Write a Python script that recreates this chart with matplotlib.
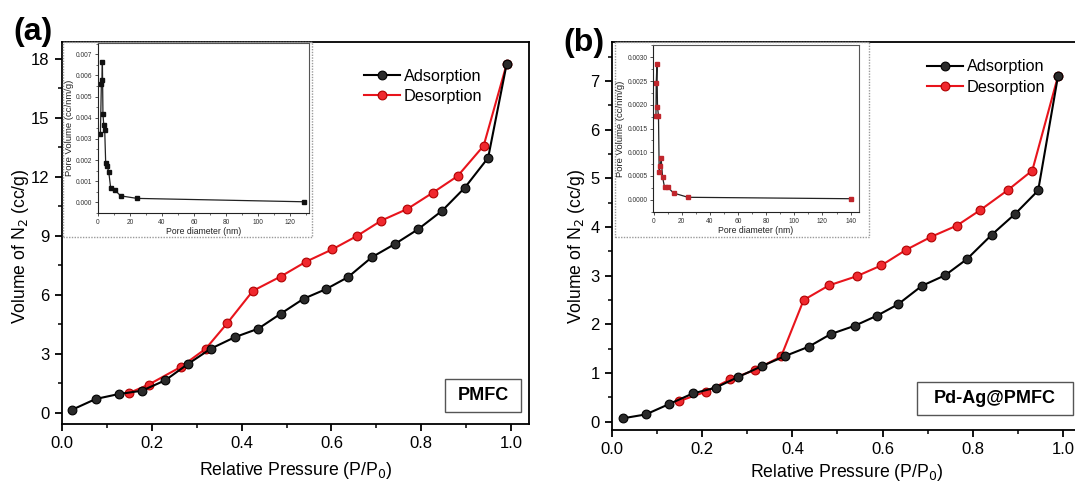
import matplotlib
matplotlib.use('Agg')
import matplotlib.pyplot as plt
from matplotlib.patches import Rectangle
from matplotlib.ticker import MultipleLocator

plt.rcParams['font.family'] = ['Liberation Sans', 'DejaVu Sans']

# ---- panel (a) PMFC isotherm ----
a_ads_x = [0.023, 0.075, 0.126, 0.178, 0.230, 0.280, 0.331, 0.385, 0.437, 0.487,
           0.538, 0.588, 0.637, 0.690, 0.742, 0.793, 0.847, 0.897, 0.949, 0.990]
a_ads_y = [0.17, 0.71, 0.96, 1.13, 1.66, 2.48, 3.26, 3.85, 4.28, 5.04,
           5.80, 6.29, 6.90, 7.91, 8.59, 9.33, 10.28, 11.44, 12.96, 17.70]
a_des_x = [0.990, 0.939, 0.881, 0.826, 0.769, 0.711, 0.657, 0.602, 0.544, 0.487,
           0.425, 0.368, 0.320, 0.264, 0.193, 0.149]
a_des_y = [17.70, 13.57, 12.03, 11.19, 10.36, 9.77, 8.99, 8.31, 7.69, 6.93,
           6.20, 4.56, 3.26, 2.33, 1.44, 1.01]

# inset (a) pore size distribution
a_pore_d = [1.5, 2.1, 2.5, 2.75, 3.1, 3.6, 4.2, 4.8, 5.6, 6.7, 7.9, 10.4, 14.2, 24.4, 129]
a_pore_v = [0.00322, 0.0056, 0.0058, 0.00662, 0.00418, 0.00366, 0.00342, 0.00188,
            0.00173, 0.00146, 0.0007, 0.00059, 0.00031, 0.00019, 0.00003]

# ---- panel (b) Pd-Ag@PMFC isotherm ----
b_ads_x = [0.024, 0.075, 0.126, 0.179, 0.230, 0.280, 0.332, 0.384, 0.436, 0.485,
           0.538, 0.588, 0.634, 0.687, 0.739, 0.787, 0.842, 0.894, 0.945, 0.989]
b_ads_y = [0.07, 0.15, 0.36, 0.58, 0.70, 0.92, 1.14, 1.35, 1.54, 1.80,
           1.97, 2.18, 2.41, 2.79, 3.01, 3.34, 3.84, 4.27, 4.75, 7.10]
b_des_x = [0.989, 0.932, 0.878, 0.817, 0.765, 0.708, 0.652, 0.597, 0.543, 0.481,
           0.425, 0.375, 0.316, 0.262, 0.209, 0.148]
b_des_y = [7.10, 5.16, 4.76, 4.35, 4.03, 3.80, 3.53, 3.21, 2.99, 2.80,
           2.50, 1.34, 1.06, 0.87, 0.62, 0.42]

# inset (b) pore size distribution
b_pore_d = [1.6, 1.8, 2.3, 2.7, 3.4, 3.9, 4.6, 5.3, 6.3, 7.7, 10.1, 14.1, 24.4, 140]
b_pore_v = [0.00177, 0.00246, 0.00285, 0.00195, 0.00177, 0.00059, 0.0007, 0.00087,
            0.00048, 0.00026, 0.00026, 0.00014, 0.00005, 0.00002]

W, H = 1075, 482
fig = plt.figure(figsize=(W / 100, H / 100), dpi=100)
fig.patch.set_facecolor('white')


def px_rect(left, top, right, bottom):
    return [left / W, 1 - bottom / H, (right - left) / W, (bottom - top) / H]


def style_main(ax, ymajor, yminor, xpad, ylab_x, ylab_y):
    for s in ax.spines.values():
        s.set_linewidth(1.3)
    ax.xaxis.set_major_locator(MultipleLocator(0.2))
    ax.xaxis.set_minor_locator(MultipleLocator(0.1))
    ax.yaxis.set_major_locator(MultipleLocator(ymajor))
    ax.yaxis.set_minor_locator(MultipleLocator(yminor))
    ax.tick_params(which='major', direction='out', length=5, width=1.3,
                   labelsize=12, pad=4)
    ax.tick_params(which='minor', direction='out', length=3, width=1.1)
    ax.set_xlabel('Relative Pressure (P/P$_0$)', fontsize=12.7, labelpad=xpad)
    ax.set_ylabel('Volume of N$_2$ (cc/g)', fontsize=12.7)
    ax.yaxis.set_label_coords(ylab_x, ylab_y)


def plot_iso(ax, ax_x, ax_y, de_x, de_y):
    ax.plot(ax_x, ax_y, '-o', color='black', lw=1.5, ms=6.3,
            mfc='#2a2a2a', mec='black', mew=0.8, label='Adsorption', zorder=3)
    ax.plot(de_x, de_y, '-o', color='#e8141c', lw=1.5, ms=6.3,
            mfc='#f0282e', mec='#b00000', mew=0.8, label='Desorption', zorder=2)


def make_inset(rect, frame, d, v, xlim, ylim, ymajor, yminor, yfmt, mcolor):
    fig.patches.append(Rectangle((frame[0] / W, 1 - frame[3] / H),
                                 (frame[2] - frame[0]) / W, (frame[3] - frame[1]) / H,
                                 transform=fig.transFigure, facecolor='white',
                                 edgecolor='#9a9a9a', lw=1.0, ls=(0, (1, 1)), zorder=5))
    axi = fig.add_axes(px_rect(*rect))
    axi.set_zorder(6)
    axi.plot(d, v, '-s', color='#222222', lw=0.9, ms=2.2, mfc=mcolor, mec=mcolor)
    axi.set_xlim(*xlim)
    axi.set_ylim(*ylim)
    axi.xaxis.set_major_locator(MultipleLocator(20))
    axi.xaxis.set_minor_locator(MultipleLocator(10))
    axi.yaxis.set_major_locator(MultipleLocator(ymajor))
    axi.yaxis.set_minor_locator(MultipleLocator(yminor))
    axi.yaxis.set_major_formatter(yfmt)
    for s in axi.spines.values():
        s.set_linewidth(0.8)
        s.set_color('#555555')
    axi.spines['left'].set_color('#222222')
    axi.spines['bottom'].set_color('#222222')
    axi.tick_params(which='major', direction='out', length=2.5, width=0.6,
                    labelsize=4.8, pad=1.5, colors='#333333')
    axi.tick_params(which='minor', direction='out', length=1.5, width=0.5, colors='#333333')
    axi.set_xlabel('Pore diameter (nm)', fontsize=6.2, labelpad=1, color='#222222')
    axi.set_ylabel('Pore Volume (cc/nm/g)', fontsize=6.8, labelpad=1.5, color='#222222')
    return axi


# ---- panel (a) ----
ax_a = fig.add_axes(px_rect(62, 42, 529, 424))
plot_iso(ax_a, a_ads_x, a_ads_y, a_des_x, a_des_y)
ax_a.set_xlim(0, 1.04)
ax_a.set_ylim(-0.56, 18.84)
style_main(ax_a, 3, 1.5, 6, -0.066, 0.466)
ax_a.legend(loc='upper left', bbox_to_anchor=(0.647, 0.93), frameon=False,
            fontsize=11.7, handlelength=2.2, handletextpad=0.25, labelspacing=0.32,
            borderpad=0, borderaxespad=0)

# ---- panel (b) ----
ax_b = fig.add_axes(px_rect(612, 42, 1081, 430))
plot_iso(ax_b, b_ads_x, b_ads_y, b_des_x, b_des_y)
ax_b.set_xlim(0, 1.04)
ax_b.set_ylim(-0.17, 7.80)
style_main(ax_b, 1, 0.5, 3, -0.053, 0.474)
ax_b.legend(loc='upper left', bbox_to_anchor=(0.672, 0.955), frameon=False,
            fontsize=11.7, handlelength=2.2, handletextpad=0.25, labelspacing=0.32,
            borderpad=0, borderaxespad=0)

# ---- insets ----
make_inset((98, 43, 309, 213), (63, 42, 312, 237), a_pore_d, a_pore_v,
           (0, 132), (-0.0005, 0.00753), 0.001, 0.0005, '{x:.3f}', '#111111')
make_inset((653, 45, 859, 212), (615, 42, 869, 237), b_pore_d, b_pore_v,
           (-0.5, 146), (-0.00026, 0.00326), 0.0005, 0.00025, '{x:.4f}', '#c0262c')

# ---- sample name boxes ----
for (l, t, r, b), name in [((445, 379, 521, 412), 'PMFC'),
                           ((917, 382, 1073, 415), 'Pd-Ag@PMFC')]:
    fig.patches.append(Rectangle((l / W, 1 - b / H), (r - l) / W, (b - t) / H,
                                 transform=fig.transFigure, facecolor='white',
                                 edgecolor='#555555', lw=1.0, zorder=5))
    fig.text((l + r) / 2 / W, 1 - (t + b) / 2 / H, name, fontsize=13,
             fontweight='bold', ha='center', va='center', zorder=6)

# ---- panel letters ----
fig.text(33 / W, 1 - 32 / H, '(a)', fontsize=23, fontweight='bold', ha='center', va='center')
fig.text(584 / W, 1 - 43 / H, '(b)', fontsize=23, fontweight='bold', ha='center', va='center')

fig.savefig('out.png', dpi=100)
